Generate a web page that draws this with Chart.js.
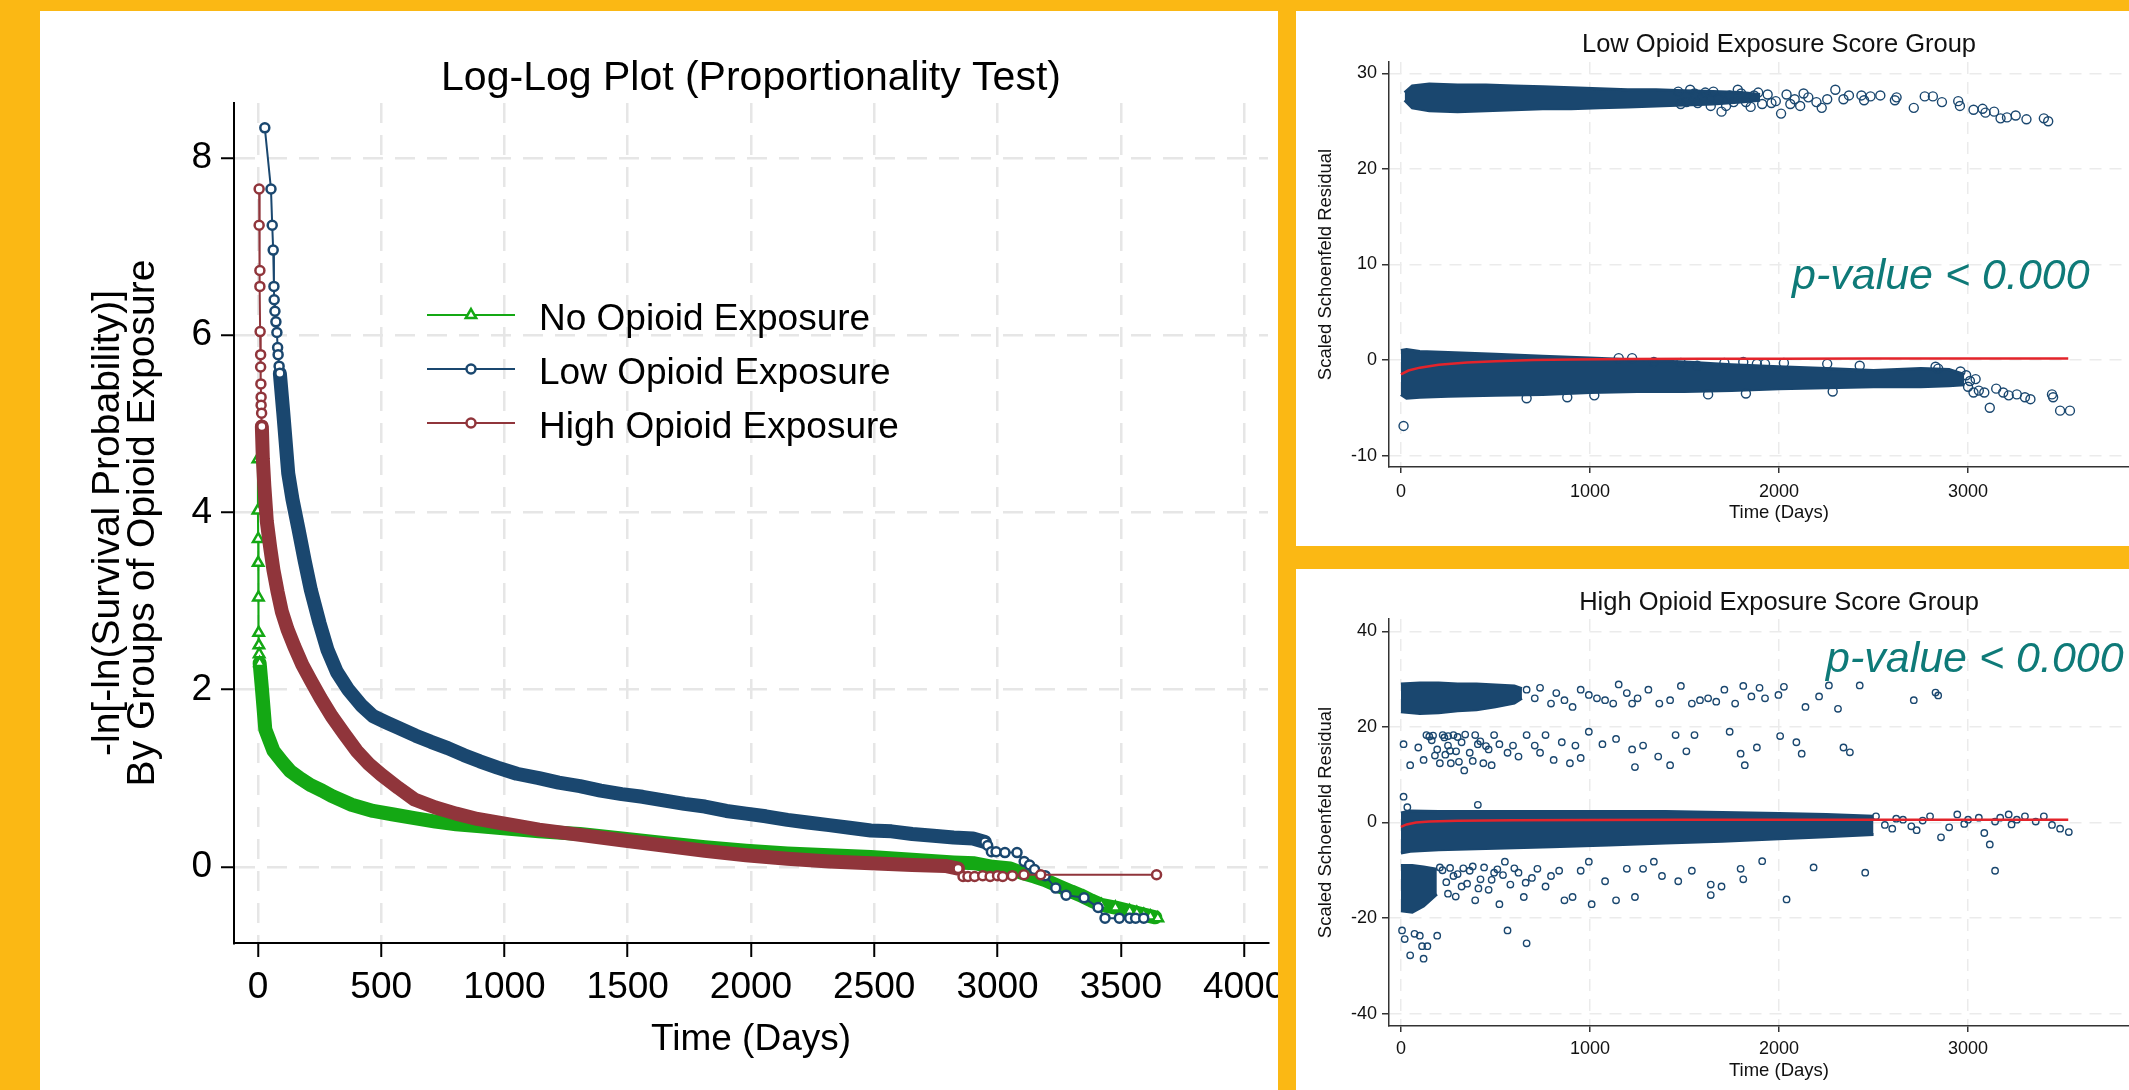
<!DOCTYPE html>
<html>
<head>
<meta charset="utf-8">
<script src="https://cdn.jsdelivr.net/npm/chart.js@4.4.0/dist/chart.umd.min.js"></script>
<style>
html, body { margin: 0; padding: 0; width: 2129px; height: 1090px; overflow: hidden; background: #fbb814; }
.panel { position: absolute; background: #fff; overflow: hidden; }
.panel canvas { position: absolute; left: 0; top: 0; }
.pval { position: absolute; font: italic 43px "Liberation Sans", Arial, sans-serif; color: #0e7a78;
        white-space: nowrap; line-height: 1; z-index: 5; }
</style>
</head>
<body>
<div class="panel" style="left:40px;top:11px;width:1238px;height:1079px"><canvas id="mainChart" width="1424" height="1079"></canvas></div>
<div class="panel" style="left:1296px;top:11px;width:833px;height:535px"><canvas id="lowChart" width="964" height="535"></canvas></div>
<div class="panel" style="left:1296px;top:569px;width:833px;height:521px"><canvas id="highChart" width="964" height="521"></canvas></div>
<div class="pval" style="left:1792px;top:253px">p-value &lt; 0.000</div>
<div class="pval" style="left:1826px;top:636px">p-value &lt; 0.000</div>

<script>
// ---- log-log plot data (days, -ln[-ln(S)]) ----
const mainXTicks = [0, 500, 1000, 1500, 2000, 2500, 3000, 3500, 4000];
const mainYTicks = [0, 2, 4, 6, 8];

const noHeadDays = [0, 0, 1, 1, 2, 3, 4, 5, 7];
const noHeadVals = [4.60, 4.02, 3.70, 3.43, 3.04, 2.64, 2.50, 2.40, 2.30];
const noBandDays = [7, 16, 30, 63, 100, 131, 170, 215, 260, 299, 380, 467, 550, 635, 720, 804, 890, 972, 1140, 1306, 1476, 1645, 1813, 1980, 2148, 2317, 2486, 2654, 2822, 2907, 2980, 3052, 3100, 3150, 3193, 3250, 3300, 3336, 3380, 3421, 3478, 3536, 3593, 3640];
const noBandVals = [2.30, 2.02, 1.55, 1.31, 1.18, 1.08, 1.00, 0.92, 0.86, 0.80, 0.70, 0.63, 0.59, 0.55, 0.51, 0.48, 0.46, 0.44, 0.40, 0.37, 0.32, 0.27, 0.22, 0.18, 0.15, 0.13, 0.11, 0.08, 0.05, 0.04, 0.00, -0.02, -0.07, -0.11, -0.15, -0.22, -0.28, -0.32, -0.38, -0.43, -0.46, -0.50, -0.54, -0.57];
const noTailDays = [3421, 3478, 3536, 3565, 3593, 3620, 3650];
const noTailVals = [-0.43, -0.46, -0.50, -0.52, -0.54, -0.56, -0.58];

const lowHeadDays = [28, 53, 58, 62, 65, 66, 69, 73, 77, 80, 82, 86, 89];
const lowHeadVals = [8.34, 7.65, 7.24, 6.96, 6.55, 6.40, 6.27, 6.15, 6.03, 5.86, 5.78, 5.65, 5.57];
const lowBandDays = [89, 103, 123, 140, 164, 190, 215, 250, 282, 320, 366, 420, 467, 520, 568, 640, 702, 770, 836, 900, 972, 1050, 1140, 1220, 1306, 1390, 1476, 1560, 1645, 1730, 1813, 1900, 1980, 2060, 2148, 2230, 2317, 2400, 2486, 2570, 2654, 2740, 2822, 2900, 2949];
const lowBandVals = [5.57, 5.12, 4.44, 4.15, 3.82, 3.45, 3.12, 2.75, 2.45, 2.20, 2.00, 1.82, 1.70, 1.63, 1.57, 1.48, 1.41, 1.34, 1.26, 1.19, 1.12, 1.05, 1.00, 0.95, 0.91, 0.86, 0.82, 0.79, 0.75, 0.71, 0.68, 0.63, 0.60, 0.57, 0.53, 0.50, 0.47, 0.44, 0.41, 0.40, 0.37, 0.35, 0.33, 0.32, 0.28];
const lowTailDays = [2949, 2960, 2975, 2994, 3030, 3079, 3108, 3130, 3150, 3193, 3236, 3278, 3351, 3408, 3436, 3494, 3536, 3560, 3593];
const lowTailVals = [0.28, 0.24, 0.17, 0.17, 0.16, 0.16, 0.06, 0.02, -0.03, -0.10, -0.24, -0.32, -0.35, -0.46, -0.58, -0.58, -0.58, -0.58, -0.58];

const highHeadDays = [5, 5, 8, 8, 9, 11, 11, 12, 13, 13, 15, 16];
const highHeadVals = [7.65, 7.24, 6.73, 6.55, 6.04, 5.78, 5.64, 5.45, 5.30, 5.21, 5.12, 4.97];
const highBandDays = [16, 20, 26, 36, 50, 63, 80, 97, 120, 147, 180, 215, 255, 299, 350, 400, 450, 500, 570, 635, 720, 804, 890, 972, 1060, 1140, 1306, 1476, 1645, 1813, 1980, 2148, 2317, 2486, 2654, 2788, 2840];
const highBandVals = [4.97, 4.60, 4.30, 3.90, 3.60, 3.35, 3.10, 2.88, 2.68, 2.49, 2.28, 2.10, 1.90, 1.70, 1.50, 1.31, 1.16, 1.04, 0.89, 0.76, 0.67, 0.60, 0.54, 0.50, 0.46, 0.42, 0.36, 0.30, 0.24, 0.18, 0.13, 0.09, 0.06, 0.04, 0.02, 0.01, -0.02];
const highTailDays = [2840, 2860, 2880, 2907, 2940, 2970, 3000, 3021, 3060, 3107, 3175, 3645];
const highTailVals = [-0.02, -0.11, -0.11, -0.11, -0.10, -0.11, -0.10, -0.11, -0.10, -0.09, -0.09, -0.09];

// ---- Schoenfeld residuals, low exposure group ----
const resXTicks = [0, 1000, 2000, 3000, 4000];
const lowYTicks = [-10, 0, 10, 20, 30];
const lowUpperBandDays = [20, 60, 150, 300, 450, 600, 750, 900, 1050, 1200, 1350, 1500, 1650, 1800, 1900];
const lowUpperBandHi = [28.0, 28.7, 28.9, 28.8, 28.8, 28.7, 28.6, 28.5, 28.4, 28.3, 28.3, 28.2, 28.1, 28.0, 27.8];
const lowUpperBandLo = [27.2, 26.4, 26.1, 26.0, 26.1, 26.2, 26.3, 26.3, 26.4, 26.5, 26.6, 26.7, 26.8, 27.0, 27.2];
const lowLowerBandDays = [0, 30, 100, 250, 500, 750, 1000, 1250, 1500, 1750, 2000, 2250, 2500, 2750, 2900, 2980];
const lowLowerBandHi = [1.0, 1.1, 0.9, 0.8, 0.6, 0.4, 0.2, 0.0, -0.2, -0.5, -0.7, -0.9, -1.1, -0.9, -1.0, -1.5];
const lowLowerBandLo = [-3.6, -4.0, -3.9, -3.8, -3.7, -3.6, -3.4, -3.3, -3.3, -3.2, -3.0, -2.9, -2.8, -2.8, -2.7, -2.6];
const lowUpperPtsDays = [1467, 1480, 1510, 1530, 1553, 1570, 1596, 1610, 1639, 1653, 1680, 1696, 1720, 1739, 1760, 1782, 1800, 1825, 1850, 1868, 1890, 1911, 1940, 1960, 1983, 2011, 2040, 2060, 2083, 2112, 2130, 2155, 2198, 2226, 2255, 2298, 2341, 2370, 2436, 2450, 2484, 2536, 2613, 2622, 2713, 2771, 2814, 2862, 2948, 2957, 3029, 3077, 3092, 3138, 3172, 3206, 3252, 3309, 3401, 3424];
const lowUpperPtsVals = [28.1, 26.8, 27.0, 28.3, 27.9, 26.9, 27.5, 28.0, 26.6, 28.1, 27.3, 26.0, 26.6, 27.7, 27.0, 28.3, 27.9, 27.0, 26.5, 27.7, 28.0, 26.8, 27.8, 26.9, 27.1, 25.8, 27.8, 26.8, 27.3, 26.6, 27.9, 27.5, 27.0, 26.4, 27.3, 28.3, 27.3, 27.7, 27.7, 27.2, 27.6, 27.7, 27.2, 27.5, 26.4, 27.6, 27.6, 27.0, 27.1, 26.6, 26.2, 26.3, 25.9, 26.0, 25.3, 25.4, 25.6, 25.2, 25.3, 25.0];
const lowLowerPtsDays = [14, 665, 880, 1023, 1152, 1223, 1338, 1481, 1567, 1625, 1711, 1811, 1825, 1883, 1926, 2026, 2255, 2284, 2427, 2828, 2842, 2960, 2990, 3000, 3010, 3029, 3040, 3057, 3086, 3115, 3149, 3186, 3215, 3258, 3301, 3330, 3444, 3450, 3487, 3539];
const lowLowerPtsVals = [-6.9, -4.0, -3.9, -3.7, 0.2, 0.2, -0.2, -0.3, -0.6, -3.6, -0.3, -0.2, -3.5, -0.4, -0.4, -0.3, -0.4, -3.3, -0.6, -0.7, -0.9, -1.2, -1.6, -2.8, -2.2, -3.4, -2.0, -3.2, -3.4, -5.0, -3.0, -3.4, -3.7, -3.6, -3.9, -4.1, -3.6, -3.9, -5.3, -5.3];
const lowFitDays = [0, 40, 100, 200, 350, 500, 700, 900, 1200, 1600, 2000, 2500, 3000, 3530];
const lowFitVals = [-1.5, -1.1, -0.8, -0.5, -0.25, -0.12, 0.0, 0.05, 0.1, 0.12, 0.14, 0.15, 0.15, 0.15];

// ---- Schoenfeld residuals, high exposure group ----
const highYTicks = [-40, -20, 0, 20, 40];
const highBandADays = [0, 100, 200, 300, 400, 500, 600, 640];
const highBandAHi = [29.0, 29.2, 29.2, 29.0, 29.0, 28.8, 28.6, 28.0];
const highBandALo = [23.2, 22.8, 23.0, 23.4, 23.6, 24.2, 25.0, 26.0];
const highBandCDays = [0, 50, 200, 500, 800, 1100, 1400, 1700, 2000, 2250, 2500];
const highBandCHi = [2.0, 2.4, 2.3, 2.3, 2.3, 2.3, 2.3, 2.1, 1.9, 1.7, 1.3];
const highBandCLo = [-6.4, -6.0, -5.7, -5.4, -5.1, -4.7, -4.3, -3.9, -3.4, -3.0, -2.5];
const highBandDDays = [0, 60, 120, 190];
const highBandDHi = [-9.0, -9.0, -9.3, -9.8];
const highBandDLo = [-18.5, -18.8, -17.5, -15.0];
const highUpperPtsDays = [665, 708, 736, 794, 822, 865, 908, 951, 994, 1037, 1080, 1123, 1152, 1195, 1223, 1252, 1309, 1367, 1424, 1481, 1539, 1582, 1625, 1668, 1711, 1768, 1811, 1854, 1897, 1926, 1997, 2026, 2140, 2212, 2264, 2312, 2427, 2713, 2828, 2842];
const highUpperPtsVals = [27.8, 26.0, 28.2, 24.9, 27.1, 25.6, 24.2, 27.8, 26.7, 26.0, 25.6, 24.9, 28.9, 27.1, 24.9, 26.0, 27.8, 24.9, 25.6, 28.6, 24.9, 25.6, 26.0, 25.3, 27.8, 24.9, 28.6, 26.4, 28.2, 26.0, 26.7, 28.4, 24.2, 26.4, 28.7, 23.8, 28.7, 25.6, 27.2, 26.6];
const highMidPtsDays = [14, 49, 92, 120, 135, 163, 192, 206, 221, 235, 249, 264, 278, 292, 307, 321, 335, 364, 393, 407, 436, 464, 493, 521, 564, 593, 622, 665, 708, 736, 765, 808, 851, 894, 923, 951, 994, 1066, 1138, 1223, 1238, 1281, 1361, 1424, 1453, 1510, 1553, 1739, 1797, 1819, 1883, 2006, 2092, 2120, 2341, 2375, 150, 170, 180, 230, 250, 260, 300, 340, 380, 420, 450, 480];
const highMidPtsVals = [16.4, 12.0, 15.7, 13.1, 18.3, 17.2, 15.3, 12.4, 18.3, 14.2, 16.1, 12.4, 18.3, 14.9, 12.7, 16.8, 10.9, 14.6, 18.3, 16.4, 12.4, 15.3, 18.3, 16.4, 14.6, 16.1, 13.8, 18.3, 16.1, 14.6, 18.3, 13.1, 16.8, 12.4, 16.1, 13.5, 19.0, 16.4, 17.5, 15.3, 11.6, 16.1, 13.8, 12.0, 18.3, 14.9, 18.3, 19.0, 14.4, 12.0, 15.7, 18.1, 16.8, 14.4, 15.7, 14.7, 18.0, 18.2, 14.0, 17.8, 18.1, 15.0, 17.9, 18.4, 12.9, 17.0, 16.0, 12.0];
const highLowPtsDays = [206, 249, 278, 321, 364, 393, 421, 464, 493, 521, 550, 579, 622, 650, 693, 722, 765, 794, 837, 865, 908, 951, 994, 1009, 1080, 1138, 1195, 1238, 1281, 1338, 1381, 1467, 1539, 1639, 1639, 1696, 1797, 1811, 1911, 2040, 2183, 2456, 3143, 220, 240, 260, 290, 300, 330, 350, 380, 410, 440, 480, 510, 540, 600, 660];
const highLowPtsVals = [-9.4, -14.9, -11.2, -13.4, -10.1, -16.3, -11.9, -14.1, -10.5, -17.1, -8.2, -13.0, -10.5, -15.6, -11.6, -9.7, -13.4, -11.2, -10.1, -16.3, -15.6, -10.1, -8.2, -17.1, -12.3, -16.3, -9.7, -15.6, -9.7, -8.2, -11.2, -12.3, -10.1, -13.0, -15.2, -13.4, -9.7, -11.9, -8.1, -16.1, -9.4, -10.5, -10.1, -10.0, -12.5, -9.5, -15.5, -10.8, -9.6, -12.8, -9.2, -13.8, -9.4, -12.0, -9.8, -11.0, -9.6, -12.6];
const highOutPtsDays = [6, 20, 49, 72, 100, 112, 120, 140, 192, 564, 665, 14, 34, 407];
const highOutPtsVals = [-22.6, -24.4, -27.8, -23.3, -23.7, -25.9, -28.5, -25.9, -23.7, -22.6, -25.3, 5.4, 3.2, 3.7];
const highTailPtsDays = [2513, 2599, 2656, 2728, 2799, 2857, 2943, 3000, 3057, 3086, 3115, 3143, 3215, 3258, 3301, 3358, 3401, 3444, 3487, 3533, 2560, 2620, 2700, 2760, 2900, 2980, 3170, 3230];
const highTailPtsVals = [1.3, -1.3, 0.6, -1.6, 1.3, -3.1, 1.7, 0.6, 1.0, -2.2, -4.6, 0.2, 1.7, 0.6, 1.3, 0.2, 1.3, -0.5, -1.3, -2.0, -0.5, 0.8, -0.8, 0.4, -1.0, -0.3, 1.0, -0.4];
const highFitDays = [0, 30, 80, 150, 300, 600, 1000, 1500, 2000, 2500, 3000, 3530];
const highFitVals = [-0.9, -0.4, 0.0, 0.2, 0.35, 0.45, 0.5, 0.55, 0.55, 0.6, 0.6, 0.6];

const GREEN = '#14a814';
const NAVY = '#1a476f';
const MAROON = '#90353b';
const FITRED = '#e3242b';
const FONT = '"Liberation Sans", Arial, sans-serif';

Chart.defaults.font.family = FONT;
Chart.defaults.color = '#000';

function pts(xs, ys) {
  return xs.map((x, i) => ({ x: x, y: ys[i] }));
}

// thick band standing in for the dense run of markers
function band(xs, ys, color, order) {
  return { data: pts(xs, ys), borderColor: color, borderWidth: 14, pointRadius: 0,
           borderJoinStyle: 'round', borderCapStyle: 'round', fill: false, order: order };
}
function markers(xs, ys, color, style, r, order) {
  return { data: pts(xs, ys), borderColor: color, borderWidth: 2, pointStyle: style,
           pointRadius: r, pointBorderWidth: 2.5, pointBorderColor: color,
           pointBackgroundColor: '#fff', fill: false, order: order };
}

const legendItems = [
  { label: 'No Opioid Exposure', color: GREEN, style: 'triangle', r: 6 },
  { label: 'Low Opioid Exposure', color: NAVY, style: 'circle', r: 4.5 },
  { label: 'High Opioid Exposure', color: MAROON, style: 'circle', r: 4.5 }
];

const inlineLegend = {
  id: 'inlineLegend',
  afterDraw(chart) {
    const ctx = chart.ctx;
    legendItems.forEach((it, i) => {
      const y = 304 + i * 54;
      ctx.save();
      ctx.strokeStyle = it.color;
      ctx.lineWidth = 2;
      ctx.beginPath();
      ctx.moveTo(387, y);
      ctx.lineTo(475, y);
      ctx.stroke();
      ctx.fillStyle = '#fff';
      ctx.lineWidth = 2.5;
      Chart.helpers.drawPoint(ctx, { pointStyle: it.style, radius: it.r, borderWidth: 2.5, rotation: 0 }, 431, y);
      ctx.fillStyle = '#000';
      ctx.font = '37px ' + FONT;
      ctx.textBaseline = 'middle';
      ctx.textAlign = 'left';
      ctx.fillText(it.label, 499, y + 5);
      ctx.restore();
    });
  }
};

new Chart(document.getElementById('mainChart'), {
  type: 'line',
  data: {
    datasets: [
      markers(highHeadDays, highHeadVals, MAROON, 'circle', 4.5, 0),
      markers(highTailDays, highTailVals, MAROON, 'circle', 4.5, 0),
      band(highBandDays, highBandVals, MAROON, 1),
      markers(lowHeadDays, lowHeadVals, NAVY, 'circle', 4.5, 2),
      markers(lowTailDays, lowTailVals, NAVY, 'circle', 4.5, 2),
      band(lowBandDays, lowBandVals, NAVY, 3),
      markers(noHeadDays, noHeadVals, GREEN, 'triangle', 6, 4),
      markers(noTailDays, noTailVals, GREEN, 'triangle', 6, 4),
      band(noBandDays, noBandVals, GREEN, 5)
    ]
  },
  options: {
    responsive: false,
    animation: false,
    events: [],
    layout: { padding: { left: 0, top: 0, right: 196, bottom: 0 } },
    plugins: {
      legend: { display: false },
      tooltip: { enabled: false },
      title: { display: true, fullSize: false, text: 'Log-Log Plot (Proportionality Test)', color: '#000',
               font: { size: 41, weight: 'normal', lineHeight: 1.1 }, padding: { top: 45, bottom: 1.9 } }
    },
    scales: {
      x: {
        type: 'linear', min: -97, max: 4097,
        afterBuildTicks: s => { s.ticks = mainXTicks.map(v => ({ value: v })); },
        afterFit: s => { s.height = 147; },
        grid: { color: '#e6e6e6', lineWidth: 2.5, tickColor: '#000', tickLength: 14, tickWidth: 2, tickBorderDash: [] },
        border: { color: '#000', width: 2, dash: [20, 12] },
        ticks: { color: '#000', font: { size: 37 }, padding: 9, maxRotation: 0, autoSkip: false, callback: v => String(v) },
        title: { display: true, text: 'Time (Days)', color: '#000', font: { size: 37 }, padding: { top: 0, bottom: 28 } }
      },
      y: {
        type: 'linear', min: -0.86, max: 8.62,
        afterBuildTicks: s => { s.ticks = mainYTicks.map(v => ({ value: v })); },
        afterFit: s => { s.width = 194; },
        grid: { color: '#e6e6e6', lineWidth: 2.5, tickColor: '#000', tickLength: 13, tickWidth: 2, tickBorderDash: [] },
        border: { color: '#000', width: 2, dash: [20, 12] },
        ticks: { color: '#000', font: { size: 37 }, padding: 9, callback: v => String(v) },
        title: { display: true, text: ['-ln[-ln(Survival Probability)]', 'By Groups of Opioid Exposure'], color: '#000',
                 font: { size: 39, lineHeight: 0.9 }, padding: { top: 50.5, bottom: 0 } }
      }
    }
  },
  plugins: [inlineLegend]
});

function cloud(xs, ys, r) {
  return { data: pts(xs, ys), showLine: false, pointStyle: 'circle', pointRadius: r,
           pointBorderWidth: 1.4, pointBorderColor: NAVY, pointBackgroundColor: 'rgba(255,255,255,0)', order: 2 };
}
function bandPair(xs, hi, lo) {
  return [
    { data: pts(xs, hi), borderColor: NAVY, borderWidth: 3, pointRadius: 0, backgroundColor: NAVY, fill: '+1', order: 3 },
    { data: pts(xs, lo), borderColor: NAVY, borderWidth: 3, pointRadius: 0, fill: false, order: 3 }
  ];
}
function fitLine(xs, ys) {
  return { data: pts(xs, ys), borderColor: FITRED, borderWidth: 2.5, pointRadius: 0, fill: false, order: 0 };
}

function residualChart(id, o) {
  const grid = { color: '#ebebeb', lineWidth: 1.5, tickColor: '#333', tickWidth: 1.5, tickBorderDash: [] };
  const border = { color: '#333', width: 1.5, dash: [12, 8] };
  return new Chart(document.getElementById(id), {
    type: 'line',
    data: { datasets: o.datasets },
    options: {
      responsive: false,
      animation: false,
      events: [],
      layout: { padding: { left: 0, top: 0, right: 91, bottom: 0 } },
      plugins: {
        legend: { display: false },
        tooltip: { enabled: false },
        title: { display: true, fullSize: false, text: o.title, color: '#111', font: { size: 25.5, weight: 'normal' },
                 padding: { top: o.titleTop, bottom: o.titleBottom } }
      },
      scales: {
        x: {
          type: 'linear', min: -63, max: 4063,
          afterBuildTicks: s => { s.ticks = resXTicks.map(v => ({ value: v })); },
          afterFit: s => { s.height = o.xHeight; },
          grid: Object.assign({ tickLength: 6 }, grid),
          border: border,
          ticks: { color: '#111', font: { size: 18 }, padding: o.xPad, maxRotation: 0, autoSkip: false, callback: v => String(v) },
          title: { display: true, text: 'Time (Days)', color: '#111', font: { size: 18.5 }, padding: { top: 0, bottom: o.xTitleBottom } }
        },
        y: {
          type: 'linear', min: o.yMin, max: o.yMax,
          afterBuildTicks: s => { s.ticks = o.yTicks.map(v => ({ value: v })); },
          afterFit: s => { s.width = 93; },
          grid: Object.assign({ tickLength: 7 }, grid),
          border: border,
          ticks: { color: '#111', font: { size: 18 }, padding: 5, callback: v => String(v) },
          title: { display: true, text: 'Scaled Schoenfeld Residual', color: '#111', font: { size: 18.5 }, padding: { top: 19, bottom: 0 } }
        }
      }
    }
  });
}

residualChart('lowChart', {
  title: 'Low Opioid Exposure Score Group',
  titleTop: 19.1, titleBottom: 1.3,
  xHeight: 79, xPad: 8, xTitleBottom: 22,
  yMin: -11.2, yMax: 31.2, yTicks: lowYTicks,
  datasets: [
    fitLine(lowFitDays, lowFitVals),
    cloud(lowUpperPtsDays, lowUpperPtsVals, 4.5),
    cloud(lowLowerPtsDays, lowLowerPtsVals, 4.5),
    ...bandPair(lowUpperBandDays, lowUpperBandHi, lowUpperBandLo),
    ...bandPair(lowLowerBandDays, lowLowerBandHi, lowLowerBandLo)
  ]
});

residualChart('highChart', {
  title: 'High Opioid Exposure Score Group',
  titleTop: 18.6, titleBottom: 0.8,
  xHeight: 64, xPad: 6, xTitleBottom: 8,
  yMin: -42.6, yMax: 42.6, yTicks: highYTicks,
  datasets: [
    fitLine(highFitDays, highFitVals),
    cloud(highUpperPtsDays, highUpperPtsVals, 3.2),
    cloud(highMidPtsDays, highMidPtsVals, 3.2),
    cloud(highLowPtsDays, highLowPtsVals, 3.2),
    cloud(highOutPtsDays, highOutPtsVals, 3.2),
    cloud(highTailPtsDays, highTailPtsVals, 3.2),
    ...bandPair(highBandADays, highBandAHi, highBandALo),
    ...bandPair(highBandCDays, highBandCHi, highBandCLo),
    ...bandPair(highBandDDays, highBandDHi, highBandDLo)
  ]
});
</script>
</body>
</html>
